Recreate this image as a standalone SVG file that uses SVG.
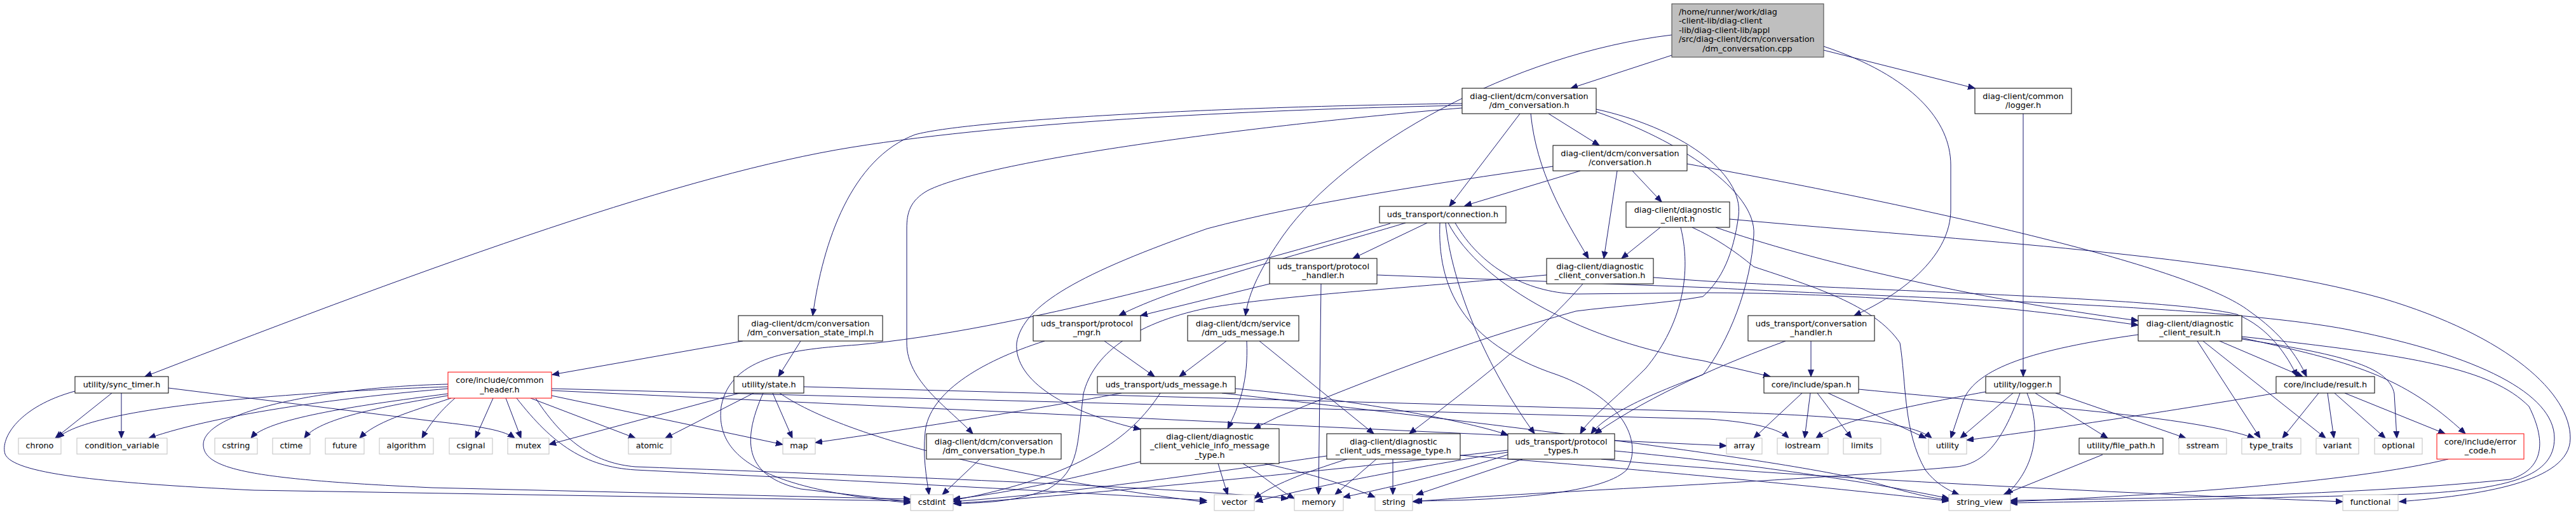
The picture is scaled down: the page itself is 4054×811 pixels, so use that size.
<svg xmlns="http://www.w3.org/2000/svg" width="4054" height="811" viewBox="0 0 4054 811">
<style>
.n rect{fill:#fff;stroke:#000;stroke-width:1}
.g rect{fill:#fff;stroke:#bfbfbf;stroke-width:1}
.r rect{fill:#fff;stroke:#f00;stroke-width:1}
text{font-family:"DejaVu Sans",sans-serif;font-size:12.8px;fill:#000;text-anchor:middle}
#edges path{fill:none;stroke:#191970;stroke-width:1;marker-end:url(#a)}
</style>
<defs>
<marker id="a" markerWidth="12" markerHeight="10" refX="11" refY="4.5" orient="auto" markerUnits="userSpaceOnUse"><path d="M0,0 L11,4.5 L0,9 z" fill="#191970" stroke="#191970" stroke-width="1"/></marker>
</defs>
<rect width="4054" height="811" fill="#fff"/>
<g id="edges">
<path d="M2631,87 L2472,139"/>
<path d="M2631,55 C2380,85 2120,230 2020,370 C1985,420 1965,460 1960,497"/>
<path d="M2870,79 L3108,139"/>
<path d="M2870,73 C3010,120 3070,190 3070,260 L3070,330 C3070,400 3000,460 2918,497"/>
<path d="M2437,179 L2517,229"/>
<path d="M2392,179 L2281,325"/>
<path d="M2409,179 C2418,270 2460,340 2500,407"/>
<path d="M2301,166 C2000,172 1600,190 1340,232 C1080,274 700,410 228,593"/>
<path d="M2301,163 C1900,168 1520,190 1440,212 C1340,250 1295,380 1279,497"/>
<path d="M2301,170 C2000,195 1560,250 1460,300 C1432,316 1427,335 1427,360 L1427,540 C1427,600 1490,640 1531,683"/>
<path d="M2512,172 C2640,200 2745,270 2736,340 C2728,400 2710,440 2680,467 C2620,478 2540,482 2480,490 C2300,540 2150,600 2010,657 L1973,675"/>
<path d="M2512,176 C2640,220 2765,300 2760,370 C2756,450 2720,540 2680,590 C2600,620 2530,650 2504,683"/>
<path d="M2487,269 L2305,324"/>
<path d="M2545,269 L2524,407"/>
<path d="M2569,269 L2615,318"/>
<path d="M2444,262 C2250,290 2050,320 1900,360 C1700,430 1610,480 1600,540 C1595,600 1680,650 1795,676"/>
<path d="M2655,258 C3050,330 3450,420 3540,490 C3590,525 3615,560 3630,593"/>
<path d="M2246,351 L2129,407"/>
<path d="M2212,351 C2050,400 1850,450 1761,497"/>
<path d="M2188,352 C1950,420 1600,520 1350,543 C1250,550 1150,560 1135,640 C1125,720 1200,770 1433,792"/>
<path d="M2266,351 C2262,450 2300,540 2450,590 C2560,630 2585,700 2560,740 C2520,780 2350,788 2227,789"/>
<path d="M2275,351 C2285,450 2340,580 2415,683"/>
<path d="M2279,351 C2330,450 2500,540 2680,568 L2786,593"/>
<path d="M2290,351 C2330,420 2400,460 2480,463 L2690,461 C3000,462 3250,495 3365,512"/>
<path d="M2613,358 L2552,407"/>
<path d="M2645,358 C2665,440 2640,520 2590,580 C2540,630 2500,660 2487,683"/>
<path d="M2663,358 C2700,375 2730,395 2760,420 C2850,450 2950,480 2990,540 C3000,600 2995,680 3030,740 C3045,760 3065,772 3083,779"/>
<path d="M2700,358 C2850,410 3100,470 3365,505"/>
<path d="M2722,345 C3100,380 3500,400 3750,470 C3950,530 4045,620 4045,690 C4045,760 3900,780 3776,790"/>
<path d="M2491,447 C2420,530 2300,620 2218,683"/>
<path d="M2602,437 L2690,443 C3000,460 3420,470 3520,495 C3570,515 3600,560 3615,593"/>
<path d="M2434,433 C2200,455 2020,465 1900,485 C1780,510 1720,560 1705,620 C1695,700 1700,740 1650,770 C1600,790 1550,792 1502,793"/>
<path d="M1998,447 L1795,497"/>
<path d="M2079,447 L2075,779"/>
<path d="M2167,433 L2690,453 C3000,470 3500,480 3700,520 C3900,560 4020,620 4020,690 C4020,750 3950,770 3800,778 C3500,786 3300,790 3164,792"/>
<path d="M1169,537 L869,590"/>
<path d="M1260,537 L1225,593"/>
<path d="M1738,537 L1817,593"/>
<path d="M1644,537 C1540,570 1462,620 1456,680 C1452,720 1458,750 1462,779"/>
<path d="M1930,537 L1856,593"/>
<path d="M1962,537 C1965,600 1950,640 1932,675"/>
<path d="M1982,537 L2162,683"/>
<path d="M1765,619 C1600,650 1400,680 1283,697"/>
<path d="M1826,619 C1780,690 1700,750 1500,788"/>
<path d="M1944,612 C2100,625 2300,660 2373,685"/>
<path d="M1923,619 C2200,650 2800,720 2950,760 C3000,775 3040,785 3067,787"/>
<path d="M1542,723 L1483,779"/>
<path d="M1795,727 C1700,750 1600,775 1500,786"/>
<path d="M1917,730 L1932,779"/>
<path d="M1956,730 C1990,750 2010,770 2037,785"/>
<path d="M1990,730 C2080,750 2120,765 2164,783"/>
<path d="M2192,723 L2192,779"/>
<path d="M2166,723 L2101,779"/>
<path d="M2088,718 C1900,745 1700,775 1500,790"/>
<path d="M2120,723 C2050,745 2000,765 1974,785"/>
<path d="M2298,717 C2600,740 2900,770 3067,789"/>
<path d="M2396,723 L2229,779"/>
<path d="M2373,716 C2300,740 2200,765 2114,783"/>
<path d="M2373,712 C2200,740 2050,770 1976,790"/>
<path d="M2373,709 C2100,740 1700,780 1500,793"/>
<path d="M2541,710 C2750,730 2950,760 3067,785"/>
<path d="M2520,723 C2800,750 3300,775 3687,790"/>
<path d="M2810,537 C2720,570 2600,620 2510,683"/>
<path d="M2850,537 L2850,593"/>
<path d="M3184,179 L3184,593"/>
<path d="M2836,619 L2760,690"/>
<path d="M2849,619 L2840,690"/>
<path d="M2860,619 L2914,690"/>
<path d="M2877,619 L3031,690"/>
<path d="M2925,613 C3200,640 3450,655 3548,690"/>
<path d="M3168,619 L3085,690"/>
<path d="M3125,617 C3000,640 2900,660 2858,690"/>
<path d="M3190,619 C3215,680 3200,740 3157,779"/>
<path d="M3203,619 L3317,690"/>
<path d="M3235,619 L3440,690"/>
<path d="M3179,619 C3150,700 3120,730 3080,735 C2800,760 2400,775 2223,790"/>
<path d="M3365,527 C3200,550 3110,580 3090,630 L3070,690"/>
<path d="M3458,537 L3557,690"/>
<path d="M3467,537 L3660,690"/>
<path d="M3493,537 L3624,593"/>
<path d="M3528,534 C3700,560 3760,580 3768,620 L3772,690"/>
<path d="M3528,532 C3700,570 3780,590 3880,683"/>
<path d="M3528,530 C3800,560 3920,580 3980,640 C4010,700 4000,740 3950,755 C3700,780 3400,785 3164,788"/>
<path d="M3649,619 L3592,690"/>
<path d="M3663,619 L3673,690"/>
<path d="M3674,619 L3754,690"/>
<path d="M3690,619 L3848,683"/>
<path d="M3582,619 C3400,650 3200,680 3095,693"/>
<path d="M3853,723 C3700,760 3400,780 3164,790"/>
<path d="M3309,716 L3153,779"/>
<path d="M176,619 L87,690"/>
<path d="M191,619 L191,690"/>
<path d="M118,616 C30,640 0,690 8,715 C20,745 150,760 400,772 L1433,789"/>
<path d="M265,611 L680,663 C740,670 790,675 810,690"/>
<path d="M705,609 C400,620 140,645 90,690"/>
<path d="M705,612 C550,625 350,650 234,690"/>
<path d="M705,620 C550,640 420,660 395,690"/>
<path d="M705,623 C600,640 500,660 479,690"/>
<path d="M710,627 C640,650 590,665 566,690"/>
<path d="M716,627 C690,650 675,670 664,690"/>
<path d="M705,605 C500,610 320,650 320,700 C320,740 400,755 680,768 L1433,786"/>
<path d="M776,627 L748,690"/>
<path d="M796,627 L820,690"/>
<path d="M835,627 L1000,690"/>
<path d="M868,623 L1232,700"/>
<path d="M813,627 C870,700 920,735 1000,740 C1300,755 1600,770 1899,788"/>
<path d="M843,627 C890,700 940,730 1000,735 C1400,750 1800,765 2027,785"/>
<path d="M868,612 L2690,660 C2760,665 2800,675 2815,690"/>
<path d="M868,615 L2717,702"/>
<path d="M1164,619 L864,700"/>
<path d="M1186,619 L1047,690"/>
<path d="M1216,619 L1247,690"/>
<path d="M1201,619 C1165,700 1175,750 1260,770 L1433,790"/>
<path d="M1227,619 C1300,670 1500,740 1899,791"/>
<path d="M1265,609 L2680,648 C2900,654 3010,665 3040,690"/>
</g>
<g id="root"><rect x="2631" y="6" width="239" height="84" fill="#bfbfbf" stroke="#404040"/><text x="2642" y="22.8" style="text-anchor:start">/home/runner/work/diag</text><text x="2642" y="37.3" style="text-anchor:start">-client-lib/diag-client</text><text x="2642" y="51.8" style="text-anchor:start">-lib/diag-client-lib/appl</text><text x="2642" y="66.3" style="text-anchor:start">/src/diag-client/dcm/conversation</text><text x="2750" y="80.8">/dm_conversation.cpp</text></g>
<g id="dmconv" class="n"><rect x="2301" y="139" width="211" height="40"/><text x="2406.5" y="155.5">diag-client/dcm/conversation</text><text x="2406.5" y="170">/dm_conversation.h</text></g>
<g id="conv" class="n"><rect x="2444" y="229" width="211" height="40"/><text x="2549.5" y="245.5">diag-client/dcm/conversation</text><text x="2549.5" y="260">/conversation.h</text></g>
<g id="conn" class="n"><rect x="2171" y="325" width="199" height="26"/><text x="2270.5" y="341.8">uds_transport/connection.h</text></g>
<g id="dclient" class="n"><rect x="2559" y="318" width="163" height="40"/><text x="2640.5" y="334.5">diag-client/diagnostic</text><text x="2640.5" y="349">_client.h</text></g>
<g id="dcc" class="n"><rect x="2434" y="407" width="168" height="40"/><text x="2518" y="423.5">diag-client/diagnostic</text><text x="2518" y="438">_client_conversation.h</text></g>
<g id="phandler" class="n"><rect x="1998" y="407" width="169" height="40"/><text x="2082.5" y="423.5">uds_transport/protocol</text><text x="2082.5" y="438">_handler.h</text></g>
<g id="stateimpl" class="n"><rect x="1162" y="497" width="227" height="40"/><text x="1275.5" y="513.5">diag-client/dcm/conversation</text><text x="1275.5" y="528">/dm_conversation_state_impl.h</text></g>
<g id="pmgr" class="n"><rect x="1626" y="497" width="169" height="40"/><text x="1710.5" y="513.5">uds_transport/protocol</text><text x="1710.5" y="528">_mgr.h</text></g>
<g id="dmuds" class="n"><rect x="1869" y="497" width="175" height="40"/><text x="1956.5" y="513.5">diag-client/dcm/service</text><text x="1956.5" y="528">/dm_uds_message.h</text></g>
<g id="convh" class="n"><rect x="2751" y="497" width="199" height="40"/><text x="2850.5" y="513.5">uds_transport/conversation</text><text x="2850.5" y="528">_handler.h</text></g>
<g id="dcr" class="n"><rect x="3365" y="497" width="163" height="40"/><text x="3446.5" y="513.5">diag-client/diagnostic</text><text x="3446.5" y="528">_client_result.h</text></g>
<g id="clogger" class="n"><rect x="3108" y="139" width="152" height="40"/><text x="3184" y="155.5">diag-client/common</text><text x="3184" y="170">/logger.h</text></g>
<g id="synctimer" class="n"><rect x="118" y="593" width="147" height="26"/><text x="191.5" y="609.8">utility/sync_timer.h</text></g>
<g id="commonheader" class="r"><rect x="705" y="586" width="163" height="41"/><text x="786.5" y="603">core/include/common</text><text x="786.5" y="617.5">_header.h</text></g>
<g id="state" class="n"><rect x="1155" y="593" width="110" height="26"/><text x="1210" y="609.8">utility/state.h</text></g>
<g id="udsmsg" class="n"><rect x="1727" y="593" width="217" height="26"/><text x="1835.5" y="609.8">uds_transport/uds_message.h</text></g>
<g id="span" class="n"><rect x="2776" y="593" width="149" height="26"/><text x="2850.5" y="609.8">core/include/span.h</text></g>
<g id="ulogger" class="n"><rect x="3125" y="593" width="117" height="26"/><text x="3183.5" y="609.8">utility/logger.h</text></g>
<g id="result" class="n"><rect x="3582" y="593" width="155" height="26"/><text x="3659.5" y="609.8">core/include/result.h</text></g>
<g id="dmctype" class="n"><rect x="1458" y="683" width="212" height="40"/><text x="1564" y="699.5">diag-client/dcm/conversation</text><text x="1564" y="714">/dm_conversation_type.h</text></g>
<g id="vinfo" class="n"><rect x="1795" y="675" width="218" height="55"/><text x="1904" y="691.8">diag-client/diagnostic</text><text x="1904" y="706.3">_client_vehicle_info_message</text><text x="1904" y="720.8">_type.h</text></g>
<g id="umtype" class="n"><rect x="2088" y="683" width="210" height="40"/><text x="2193" y="699.5">diag-client/diagnostic</text><text x="2193" y="714">_client_uds_message_type.h</text></g>
<g id="ptypes" class="n"><rect x="2373" y="683" width="168" height="40"/><text x="2457" y="699.5">uds_transport/protocol</text><text x="2457" y="714">_types.h</text></g>
<g id="errcode" class="r"><rect x="3835" y="683" width="137" height="40"/><text x="3903.5" y="699.5">core/include/error</text><text x="3903.5" y="714">_code.h</text></g>
<g id="filepath" class="n"><rect x="3272" y="690" width="132" height="25"/><text x="3338" y="706.3">utility/file_path.h</text></g>
<g id="chrono" class="g"><rect x="29" y="690" width="67" height="25"/><text x="62.5" y="706.3">chrono</text></g>
<g id="condvar" class="g"><rect x="121" y="690" width="142" height="25"/><text x="192" y="706.3">condition_variable</text></g>
<g id="cstring" class="g"><rect x="338" y="690" width="67" height="25"/><text x="371.5" y="706.3">cstring</text></g>
<g id="ctime" class="g"><rect x="429" y="690" width="59" height="25"/><text x="458.5" y="706.3">ctime</text></g>
<g id="future" class="g"><rect x="512" y="690" width="61" height="25"/><text x="542.5" y="706.3">future</text></g>
<g id="algorithm" class="g"><rect x="597" y="690" width="85" height="25"/><text x="639.5" y="706.3">algorithm</text></g>
<g id="csignal" class="g"><rect x="707" y="690" width="68" height="25"/><text x="741" y="706.3">csignal</text></g>
<g id="mutex" class="g"><rect x="799" y="690" width="65" height="25"/><text x="831.5" y="706.3">mutex</text></g>
<g id="atomic" class="g"><rect x="989" y="690" width="67" height="25"/><text x="1022.5" y="706.3">atomic</text></g>
<g id="map" class="g"><rect x="1232" y="690" width="51" height="25"/><text x="1257.5" y="706.3">map</text></g>
<g id="array" class="g"><rect x="2717" y="690" width="56" height="25"/><text x="2745" y="706.3">array</text></g>
<g id="iostream" class="g"><rect x="2797" y="690" width="80" height="25"/><text x="2837" y="706.3">iostream</text></g>
<g id="limits" class="g"><rect x="2901" y="690" width="59" height="25"/><text x="2930.5" y="706.3">limits</text></g>
<g id="utility" class="g"><rect x="3035" y="690" width="60" height="25"/><text x="3065" y="706.3">utility</text></g>
<g id="sstream" class="g"><rect x="3429" y="690" width="75" height="25"/><text x="3466.5" y="706.3">sstream</text></g>
<g id="typetraits" class="g"><rect x="3528" y="690" width="93" height="25"/><text x="3574.5" y="706.3">type_traits</text></g>
<g id="variant" class="g"><rect x="3645" y="690" width="67" height="25"/><text x="3678.5" y="706.3">variant</text></g>
<g id="optional" class="g"><rect x="3737" y="690" width="75" height="25"/><text x="3774.5" y="706.3">optional</text></g>
<g id="cstdint" class="g"><rect x="1433" y="779" width="67" height="25"/><text x="1466.5" y="795.3">cstdint</text></g>
<g id="vector" class="g"><rect x="1911" y="779" width="63" height="25"/><text x="1942.5" y="795.3">vector</text></g>
<g id="memory" class="g"><rect x="2037" y="779" width="77" height="25"/><text x="2075.5" y="795.3">memory</text></g>
<g id="string" class="g"><rect x="2164" y="779" width="59" height="25"/><text x="2193.5" y="795.3">string</text></g>
<g id="stringview" class="g"><rect x="3067" y="779" width="97" height="25"/><text x="3115.5" y="795.3">string_view</text></g>
<g id="functional" class="g"><rect x="3687" y="779" width="87" height="25"/><text x="3730.5" y="795.3">functional</text></g>
</svg>
